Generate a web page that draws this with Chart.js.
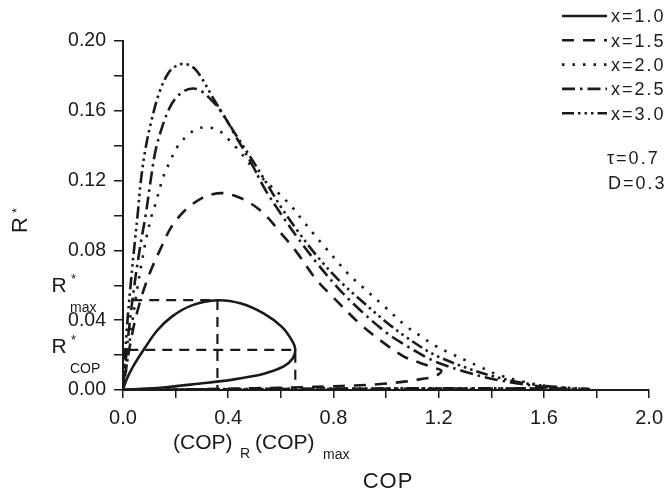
<!DOCTYPE html>
<html>
<head>
<meta charset="utf-8">
<script src="https://cdn.jsdelivr.net/npm/chart.js@4.4.0/dist/chart.umd.min.js"></script>
<style>
  html, body { margin: 0; padding: 0; background: #fff; }
  canvas { display: block; }
</style>
</head>
<body>
<canvas id="copChart" width="671" height="494"></canvas>
<script>
const seriesLabels = ['x=1.0', 'x=1.5', 'x=2.0', 'x=2.5', 'x=3.0'];

// every loop starts at the origin, runs out along the lower branch and comes back over the top
const cop10 = [0, 0.162, 0.287, 0.411, 0.536, 0.611, 0.645, 0.655, 0.642, 0.605, 0.536, 0.449, 0.359, 0.262, 0.187, 0.130, 0.081, 0.037, 0.012, 0];
const r10 = [0, 0.0016, 0.0036, 0.0058, 0.0093, 0.0135, 0.018, 0.0231, 0.0284, 0.036, 0.0437, 0.0495, 0.0514, 0.0485, 0.0422, 0.0341, 0.0236, 0.0131, 0.0055, 0];

const cop15 = [0, 0.3, 0.5, 0.68, 0.78, 0.88, 0.98, 1.07, 1.14, 1.186, 1.21, 1.18, 1.13, 1.07, 1.0, 0.9, 0.8, 0.736, 0.66, 0.6, 0.536, 0.48, 0.43, 0.38, 0.34, 0.3, 0.26, 0.22, 0.18, 0.143, 0.11, 0.08, 0.06, 0.04, 0.02, 0.008, 0];
const r15 = [0, 0.0005, 0.001, 0.0016, 0.002, 0.0026, 0.0034, 0.0048, 0.0064, 0.0078, 0.011, 0.0128, 0.0155, 0.019, 0.026, 0.038, 0.053, 0.063, 0.079, 0.09, 0.101, 0.1075, 0.111, 0.1128, 0.1122, 0.11, 0.106, 0.1005, 0.0925, 0.081, 0.07, 0.058, 0.048, 0.036, 0.02, 0.008, 0];

const cop20 = [0, 0.4, 0.8, 1.2, 1.5, 1.72, 1.7, 1.6, 1.5, 1.416, 1.36, 1.304, 1.248, 1.185, 1.13, 1.073, 1.0, 0.911, 0.855, 0.811, 0.767, 0.724, 0.68, 0.642, 0.6, 0.55, 0.5, 0.455, 0.405, 0.361, 0.31, 0.28, 0.245, 0.205, 0.178, 0.155, 0.124, 0.109, 0.09, 0.07, 0.05, 0.03, 0.015, 0];
const r20 = [0, 0.0003, 0.0005, 0.0006, 0.0006, 0.0006, 0.001, 0.0025, 0.0055, 0.0093, 0.0131, 0.0169, 0.0208, 0.0255, 0.031, 0.037, 0.047, 0.059, 0.0667, 0.0743, 0.082, 0.0896, 0.0977, 0.105, 0.1115, 0.1185, 0.126, 0.1346, 0.143, 0.149, 0.1505, 0.1495, 0.146, 0.139, 0.1307, 0.123, 0.107, 0.1, 0.088, 0.072, 0.054, 0.033, 0.015, 0];

const cop25 = [0, 0.4, 0.8, 1.2, 1.5, 1.68, 1.66, 1.6, 1.5, 1.4, 1.3, 1.2, 1.15, 1.07, 1.0, 0.9, 0.82, 0.736, 0.66, 0.6, 0.54, 0.486, 0.43, 0.374, 0.324, 0.295, 0.268, 0.235, 0.199, 0.175, 0.149, 0.124, 0.106, 0.087, 0.065, 0.045, 0.025, 0.008, 0];
const r25 = [0, 0.0004, 0.0006, 0.0008, 0.0008, 0.0008, 0.0012, 0.0018, 0.0038, 0.0065, 0.0105, 0.0155, 0.019, 0.026, 0.033, 0.046, 0.058, 0.073, 0.088, 0.101, 0.115, 0.1305, 0.145, 0.1594, 0.168, 0.1715, 0.1728, 0.1715, 0.167, 0.161, 0.1508, 0.1374, 0.121, 0.101, 0.082, 0.062, 0.038, 0.013, 0];

const cop30 = [0, 0.4, 0.8, 1.2, 1.5, 1.77, 1.75, 1.7, 1.6, 1.5, 1.4, 1.3, 1.2, 1.15, 1.07, 1.0, 0.9, 0.82, 0.736, 0.66, 0.6, 0.54, 0.48, 0.43, 0.38, 0.34, 0.3, 0.27, 0.237, 0.205, 0.172, 0.137, 0.106, 0.084, 0.068, 0.056, 0.045, 0.03, 0.015, 0.005, 0];
const r30 = [0, 0.0005, 0.0008, 0.001, 0.001, 0.0006, 0.0008, 0.0011, 0.0024, 0.0046, 0.0082, 0.013, 0.019, 0.023, 0.031, 0.039, 0.052, 0.063, 0.077, 0.092, 0.105, 0.12, 0.1345, 0.146, 0.158, 0.168, 0.1785, 0.1845, 0.1868, 0.186, 0.1815, 0.17, 0.153, 0.137, 0.12, 0.101, 0.085, 0.062, 0.036, 0.013, 0];

// dashed guides for R*max / (COP)R and R*COP / (COP)max on the x=1.0 loop
const guideMaxCop = [0.035, 0.359, 0.359];
const guideMaxR = [0.0515, 0.0515, 0];
const guideCopCop = [0.02, 0.655, 0.655];
const guideCopR = [0.023, 0.023, 0];

const xTickValues = [0, 0.2, 0.4, 0.6, 0.8, 1.0, 1.2, 1.4, 1.6, 1.8, 2.0];
const xTickLabels = ['0.0', '', '0.4', '', '0.8', '', '1.2', '', '1.6', '', '2.0'];
const yTickValues = [0, 0.02, 0.04, 0.06, 0.08, 0.10, 0.12, 0.14, 0.16, 0.18, 0.20];
const yTickLabels = ['0.00', '', '0.04', '', '0.08', '', '0.12', '', '0.16', '', '0.20'];

const ink = '#1a1a1a';
const family = '"Liberation Sans", Arial, Helvetica, sans-serif';
const dashes = [[], [12, 9], [2.5, 8], [13, 5, 2.5, 5], [12, 4, 2.5, 4, 2.5, 4, 2.5, 4]];

const pts = (xs, ys) => xs.map((x, i) => ({ x, y: ys[i] }));

const series = [[cop10, r10], [cop15, r15], [cop20, r20], [cop25, r25], [cop30, r30]];
const datasets = series.map(([xs, ys], i) => ({
  label: seriesLabels[i],
  data: pts(xs, ys),
  borderColor: ink,
  borderWidth: 2.6,
  borderDash: dashes[i],
  pointRadius: 0,
  showLine: true,
  tension: 0.35,
  fill: false
}));
[[guideMaxCop, guideMaxR], [guideCopCop, guideCopR]].forEach(([xs, ys]) => {
  datasets.push({
    label: '',
    data: pts(xs, ys),
    borderColor: ink,
    borderWidth: 2.2,
    borderDash: [10, 7],
    pointRadius: 0,
    showLine: true,
    tension: 0,
    fill: false
  });
});

function put(ctx, str, x, y, size, spacing) {
  ctx.font = size + 'px ' + family;
  ctx.letterSpacing = (spacing || 0) + 'px';
  ctx.fillText(str, x, y);
}

const overlay = {
  id: 'overlay',
  afterDraw(chart) {
    const ctx = chart.ctx;
    ctx.save();
    ctx.fillStyle = ink;
    ctx.strokeStyle = ink;
    ctx.textBaseline = 'alphabetic';
    ctx.textAlign = 'left';

    // legend, top right
    chart.data.datasets.slice(0, 5).forEach((ds, i) => {
      const y = 16 + i * 24.3;
      ctx.lineWidth = 2.6;
      ctx.setLineDash(ds.borderDash);
      ctx.beginPath();
      ctx.moveTo(562, y);
      ctx.lineTo(607, y);
      ctx.stroke();
      ctx.setLineDash([]);
      put(ctx, ds.label, 611, y + 6.3, 18, 2);
    });
    put(ctx, 'τ=0.7', 607, 163.5, 18, 2);
    put(ctx, 'D=0.3', 608, 188.5, 18, 2);

    // R*max and R*COP beside the y axis
    put(ctx, 'R', 51.5, 292, 21);
    put(ctx, '*', 71, 282.5, 13);
    put(ctx, 'max', 70, 311.5, 14);
    put(ctx, 'R', 51.5, 353.3, 21);
    put(ctx, '*', 71, 344.3, 13);
    put(ctx, 'COP', 70, 373.3, 14);

    // (COP)R (COP)max under the x axis
    put(ctx, '(COP)', 173, 449, 21);
    put(ctx, 'R', 240, 458, 14);
    put(ctx, '(COP)', 255, 449, 21);
    put(ctx, 'max', 323, 459, 14);

    // axis titles
    ctx.textAlign = 'center';
    put(ctx, 'COP', 388, 488, 22, 1);
    ctx.textAlign = 'left';
    ctx.translate(26.5, 233);
    ctx.rotate(-Math.PI / 2);
    put(ctx, 'R', 0, 0, 22);
    put(ctx, '*', 20, -6, 13);
    ctx.restore();
  }
};

new Chart(document.getElementById('copChart'), {
  type: 'scatter',
  data: { datasets },
  plugins: [overlay],
  options: {
    responsive: false,
    animation: false,
    layout: { padding: { top: 41, right: 14, bottom: 0, left: 0 } },
    plugins: { legend: { display: false }, tooltip: { enabled: false } },
    scales: {
      x: {
        type: 'linear',
        min: 0,
        max: 2,
        afterBuildTicks: s => { s.ticks = xTickValues.map(v => ({ value: v })); },
        afterFit: s => { s.height = 104; },
        ticks: {
          autoSkip: false,
          maxRotation: 0,
          color: ink,
          padding: 8,
          font: { family, size: 20 },
          callback: (v, i) => xTickLabels[i]
        },
        grid: { drawOnChartArea: false, drawTicks: true, tickLength: 8, color: ink, lineWidth: 1.5 },
        border: { color: ink, width: 2 }
      },
      y: {
        type: 'linear',
        min: 0,
        max: 0.2,
        afterBuildTicks: s => { s.ticks = yTickValues.map(v => ({ value: v })); },
        afterFit: s => { s.width = 123; },
        ticks: {
          autoSkip: false,
          color: ink,
          padding: 8,
          font: { family, size: 19.5 },
          callback: (v, i) => yTickLabels[i]
        },
        grid: { drawOnChartArea: false, drawTicks: true, tickLength: 9, color: ink, lineWidth: 1.5 },
        border: { color: ink, width: 2 }
      }
    }
  }
});
</script>
</body>
</html>
